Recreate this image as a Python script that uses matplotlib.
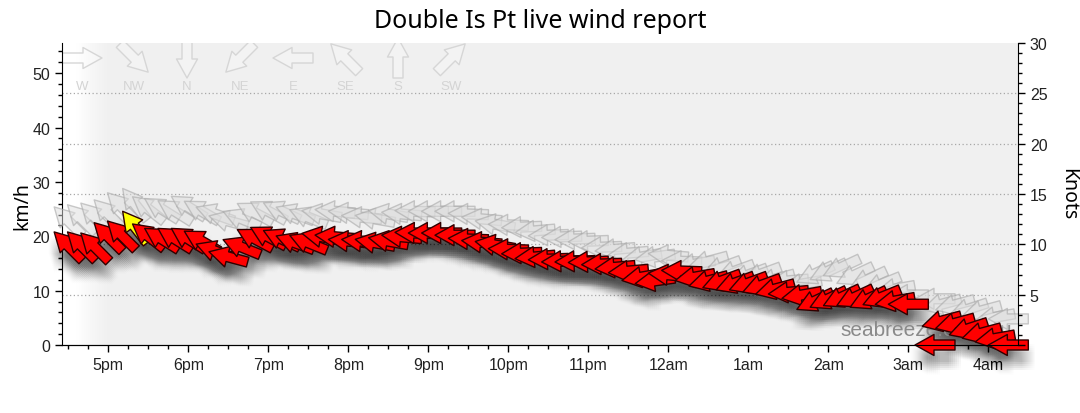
import numpy as np
import matplotlib.pyplot as plt
from matplotlib.collections import PolyCollection
from matplotlib.transforms import IdentityTransform

KMH_PER_KNOT = 1.852

# lecturas cada ~10 minutos (hora local)
times = ["16:30", "16:40", "16:50", "17:00", "17:10", "17:20", "17:30", "17:40", "17:50", "18:00",
         "18:10", "18:20", "18:30", "18:40", "18:50", "19:00", "19:10", "19:20", "19:30", "19:40",
         "19:50", "20:00", "20:10", "20:20", "20:30", "20:40", "20:50", "21:00", "21:10", "21:20",
         "21:30", "21:40", "21:50", "22:00", "22:10", "22:20", "22:30", "22:40", "22:50", "23:00",
         "23:10", "23:20", "23:30", "23:40", "23:50", "00:00", "00:10", "00:20", "00:30", "00:40",
         "00:50", "01:00", "01:10", "01:20", "01:30", "01:40", "01:50", "02:00", "02:10", "02:20",
         "02:30", "02:40", "02:50", "03:00", "03:20", "03:25", "03:35", "03:45", "03:55", "04:05",
         "04:15"]

wind_kmh = [18.2, 18.2, 18.0, 19.9, 20.2, 21.7, 20.0, 19.5, 19.5, 19.5,
            19.1, 17.3, 16.2, 18.0, 19.5, 19.9, 19.5, 18.8, 18.8, 19.9,
            19.9, 19.1, 19.1, 18.8, 19.1, 19.9, 20.6, 20.6, 20.6, 20.2,
            19.5, 18.9, 18.4, 17.6, 16.9, 16.2, 15.8, 15.4, 15.4, 15.3,
            14.9, 14.3, 13.6, 12.5, 11.8, 12.9, 13.6, 12.5, 11.8, 11.8,
            11.4, 11.4, 11.0, 10.3, 9.7, 9.2, 8.1, 8.5, 8.8, 8.8,
            8.5, 8.8, 8.1, 7.5, 0.0, 4.4, 4.0, 3.0, 2.2, 1.2,
            0.0]

gust_kmh = [22.8, 23.2, 23.5, 24.1, 25.4, 25.9, 25.0, 25.0, 24.6, 25.4,
            24.6, 24.1, 22.8, 23.2, 24.3, 24.6, 24.6, 24.1, 23.5, 24.1,
            24.6, 24.3, 23.5, 23.2, 24.1, 24.1, 24.6, 24.6, 24.6, 24.6,
            24.1, 23.2, 22.2, 22.1, 21.7, 21.0, 20.2, 19.9, 19.5, 19.1,
            18.0, 17.6, 16.9, 16.2, 16.2, 16.5, 15.4, 14.9, 15.4, 14.3,
            13.6, 12.9, 13.1, 12.1, 11.8, 11.2, 13.1, 13.6, 14.3, 12.9,
            12.1, 11.2, 10.3, 9.2, 8.5, 7.5, 7.4, 6.6, 6.3, 5.1,
            4.8]

# direccion de procedencia en grados
direction = [135, 135, 135, 135, 135, 142, 128, 122, 122, 122,
             120, 110, 105, 112, 118, 118, 115, 110, 112, 100,
             95, 95, 95, 100, 100, 95, 92, 90, 90, 90,
             92, 95, 100, 92, 88, 85, 88, 88, 88, 88,
             88, 85, 85, 80, 82, 95, 92, 80, 75, 70,
             70, 70, 70, 75, 85, 80, 65, 65, 65, 65,
             65, 68, 80, 90, 90, 75, 75, 72, 75, 80,
             90]

# lectura destacada en amarillo
highlight_time = "17:20"

compass_names = ["W", "NW", "N", "NE", "E", "SE", "S", "SW"]
compass_deg = [270, 315, 0, 45, 90, 135, 180, 225]

hour_labels = ["5pm", "6pm", "7pm", "8pm", "9pm", "10pm", "11pm",
               "12am", "1am", "2am", "3am", "4am"]


def to_hours(t):
    h, m = map(int, t.split(":"))
    if h < 16:
        h += 24
    return h - 16 + m / 60


# flecha en pixeles, apuntando a +x, centrada
ARROW = np.array([(-20, -5), (1, -5), (1, -10.5), (20, 0), (1, 10.5), (1, 5), (-20, 5)], float)


def arrow_verts(frm, dx=0.0, dy=0.0):
    ang = np.deg2rad(90 - (frm + 180))
    c, s = np.cos(ang), np.sin(ang)
    rot = np.array([[c, -s], [s, c]])
    return ARROW @ rot.T + np.array([dx, dy])


x = np.array([to_hours(t) for t in times])
fills = ["#ffff00" if t == highlight_time else "#ff0000" for t in times]

fig = plt.figure(figsize=(10.8, 4.14), dpi=100)
ax = fig.add_axes([62 / 1080, 68 / 414, 956 / 1080, 302 / 414])
ax.set_facecolor("#f0f0f0")

xmin, xmax = 0.421, 12.371
ymax = 30 * KMH_PER_KNOT

# degradado blanco a la izquierda
grad = np.ones((1, 200, 4))
u = np.linspace(0, 1, 200)
grad[0, :, 3] = np.clip(1 - (u - 0.3) / 0.7, 0, 1) ** 1.3
ax.imshow(grad, extent=[0, 0.052, 0, 1], transform=ax.transAxes,
          aspect="auto", zorder=0.5, interpolation="bilinear")

# lineas de la cuadricula en nudos
for k in [5, 10, 15, 20, 25]:
    ax.axhline(k * KMH_PER_KNOT, color="#a8a8a8", lw=0.9, ls=(0, (1, 2)), zorder=1)

ax.text(0.814, 2.9 / ymax, "seabreeze.com.au", transform=ax.transAxes,
        fontsize=15, color="#8a8a8a", family="Liberation Sans",
        va="center", ha="left", zorder=2.5)

# sombra difusa
shadow_verts, shadow_offs = [], []
for xi, yi, di in zip(x, wind_kmh, direction):
    for ddx in range(-6, 7, 2):
        for ddy in range(-4, -22, -2):
            shadow_verts.append(arrow_verts(di, ddx, ddy))
            shadow_offs.append((xi, yi))
shadow = PolyCollection(shadow_verts, offsets=shadow_offs, offset_transform=ax.transData,
                        transform=IdentityTransform(), facecolors=(0, 0, 0, 0.0065),
                        edgecolors="none", zorder=2, clip_on=False)
ax.add_collection(shadow, autolim=False)

# rafagas
gust_coll = PolyCollection([arrow_verts(d) for d in direction],
                           offsets=list(zip(x, gust_kmh)), offset_transform=ax.transData,
                           transform=IdentityTransform(),
                           facecolors=(0.87, 0.87, 0.87, 0.5),
                           edgecolors=(0.66, 0.66, 0.66, 0.6), linewidths=1.0,
                           zorder=3, clip_on=False)
ax.add_collection(gust_coll, autolim=False)

# viento medio
wind_coll = PolyCollection([arrow_verts(d) for d in direction],
                           offsets=list(zip(x, wind_kmh)), offset_transform=ax.transData,
                           transform=IdentityTransform(), facecolors=fills,
                           edgecolors="#300000", linewidths=1.0, zorder=4, clip_on=False)
ax.add_collection(wind_coll, autolim=False)

# leyenda de direcciones
leg_x = [(px - 62) / 956 for px in [82, 134, 187, 240, 293, 345, 398, 451]]
leg = PolyCollection([arrow_verts(d) for d in compass_deg],
                     offsets=[(lx, (346 - 59) / 302) for lx in leg_x],
                     offset_transform=ax.transAxes, transform=IdentityTransform(),
                     facecolors=(1, 1, 1, 0.25), edgecolors="#d6d6d6", linewidths=1.0,
                     zorder=1.5)
ax.add_collection(leg, autolim=False)
for lx, name in zip(leg_x, compass_names):
    ax.text(lx, (346 - 87) / 302, name, transform=ax.transAxes, ha="center", va="center",
            fontsize=9.5, color="#d4d4d4", family="Liberation Sans", zorder=1.5)

ax.set_xlim(xmin, xmax)
ax.set_ylim(0, ymax)
ax.set_xticks(range(1, 13))
ax.set_xticklabels(hour_labels)
ax.set_xticks(np.arange(0.5, 12.4, 0.25), minor=True)
ax.set_yticks(range(0, 51, 10))
ax.set_yticks(range(0, 56, 2), minor=True)
ax.tick_params(which="major", length=5, width=1, labelsize=11.5, colors="black")
ax.tick_params(which="minor", length=3, width=1)
for lab in ax.get_xticklabels() + ax.get_yticklabels():
    lab.set_family("Liberation Sans")
    lab.set_color("#222222")
ax.spines["top"].set_visible(False)
ax.spines["right"].set_visible(False)

ax2 = ax.twinx()
ax2.set_ylim(0, 30)
ax2.set_yticks(range(0, 31, 5))
ax2.set_yticklabels(["", "5", "10", "15", "20", "25", "30"])
ax2.set_yticks(range(0, 31, 1), minor=True)
ax2.tick_params(which="major", length=5, width=1, labelsize=11.5)
ax2.tick_params(which="minor", length=3, width=1)
for lab in ax2.get_yticklabels():
    lab.set_family("Liberation Sans")
    lab.set_color("#222222")
ax2.spines["top"].set_visible(False)
ax2.spines["left"].set_visible(False)
ax2.patch.set_visible(False)

fig.text(0.5, 1 - 22 / 414, "Double Is Pt live wind report", ha="center", va="center",
         fontsize=18, family="Noto Sans")
fig.text(22 / 1080, 1 - 206 / 414, "km/h", ha="center", va="center", rotation=90,
         fontsize=14, family="Noto Sans")
fig.text(1068 / 1080, 1 - 194 / 414, "Knots", ha="center", va="center", rotation=270,
         fontsize=14, family="Noto Sans")

fig.savefig("out.png", dpi=100)
